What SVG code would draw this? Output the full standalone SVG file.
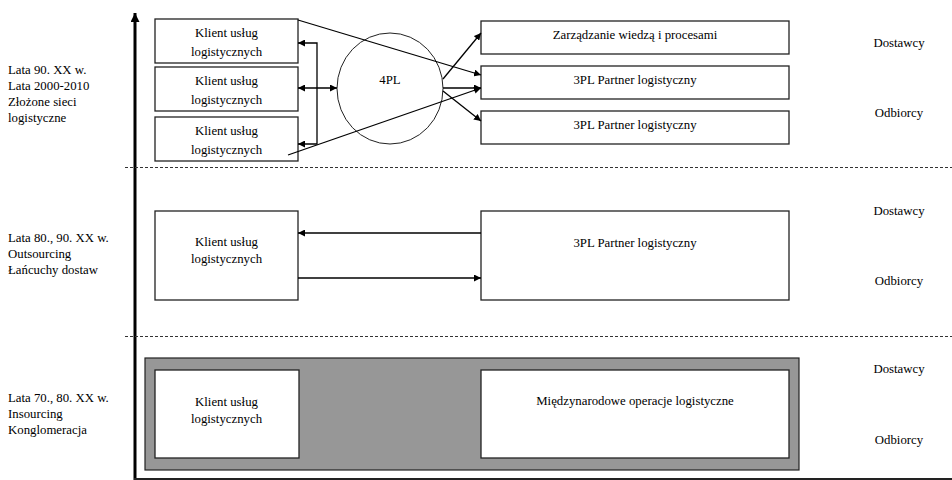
<svg xmlns="http://www.w3.org/2000/svg" width="952" height="480" viewBox="0 0 952 480">
<defs>
<marker id="ah" viewBox="0 0 10 10" refX="10" refY="5" markerWidth="7" markerHeight="7" markerUnits="userSpaceOnUse" orient="auto-start-reverse">
<path d="M0,0 L10,5 L0,10 z" fill="#000"/>
</marker>
<marker id="axh" viewBox="0 0 10 10" refX="10" refY="5" markerWidth="10" markerHeight="9" markerUnits="userSpaceOnUse" orient="auto">
<path d="M0,0 L10,5 L0,10 z" fill="#000"/>
</marker>
</defs>
<style>
text{font-family:"Liberation Serif","Times New Roman",serif;font-size:12.8px;fill:#000}
.c{text-anchor:middle}
.box{fill:#fff;stroke:#222;stroke-width:1.3}
.ln{stroke:#000;stroke-width:1.3;fill:none}
.dash{stroke:#333;stroke-width:1;stroke-dasharray:3,2}
</style>
<rect width="952" height="480" fill="#fff"/>

<g id="axes">
<line x1="135" y1="480" x2="135" y2="13" stroke="#000" stroke-width="3" marker-end="url(#axh)"/>
<line x1="134" y1="479" x2="952" y2="479" stroke="#222" stroke-width="2"/>
<line class="dash" x1="125" y1="167.5" x2="952" y2="167.5"/>
<line class="dash" x1="125" y1="336.5" x2="952" y2="336.5"/>
</g>

<g id="era-labels">
<text x="8" y="74">Lata 90. XX w.</text>
<text x="8" y="90">Lata 2000-2010</text>
<text x="8" y="106">Złożone sieci</text>
<text x="8" y="122">logistyczne</text>
<text x="8" y="242">Lata 80., 90. XX w.</text>
<text x="8" y="258">Outsourcing</text>
<text x="8" y="274">Łańcuchy dostaw</text>
<text x="8" y="402">Lata 70., 80. XX w.</text>
<text x="8" y="418">Insourcing</text>
<text x="8" y="434">Konglomeracja</text>
</g>

<g id="side-labels">
<text class="c" x="899" y="47">Dostawcy</text>
<text class="c" x="899" y="117">Odbiorcy</text>
<text class="c" x="899" y="215">Dostawcy</text>
<text class="c" x="899" y="285">Odbiorcy</text>
<text class="c" x="899" y="373">Dostawcy</text>
<text class="c" x="899" y="444">Odbiorcy</text>
</g>

<g id="klient1">
<rect class="box" x="155" y="19" width="143" height="44"/>
<text class="c" x="226.5" y="37">Klient usług</text>
<text class="c" x="226.5" y="56">logistycznych</text>
</g>
<g id="klient2">
<rect class="box" x="155" y="67" width="143" height="44"/>
<text class="c" x="226.5" y="85">Klient usług</text>
<text class="c" x="226.5" y="104">logistycznych</text>
</g>
<g id="klient3">
<rect class="box" x="155" y="117" width="143" height="44"/>
<text class="c" x="226.5" y="135">Klient usług</text>
<text class="c" x="226.5" y="154">logistycznych</text>
</g>

<g id="n4pl">
<ellipse cx="390" cy="88.5" rx="53" ry="55.5" fill="#fff" stroke="#222" stroke-width="1"/>
<text class="c" x="390" y="84">4PL</text>
</g>

<g id="zarzadzanie">
<rect class="box" x="481" y="21" width="308" height="33"/>
<text class="c" x="635" y="39">Zarządzanie wiedzą i procesami</text>
</g>
<g id="pl3a">
<rect class="box" x="481" y="66" width="308" height="33"/>
<text class="c" x="635" y="84">3PL Partner logistyczny</text>
</g>
<g id="pl3b">
<rect class="box" x="481" y="111" width="308" height="33"/>
<text class="c" x="635" y="129">3PL Partner logistyczny</text>
</g>

<g id="klient-mid">
<rect class="box" x="155" y="211" width="143" height="89"/>
<text class="c" x="226.5" y="246">Klient usług</text>
<text class="c" x="226.5" y="263">logistycznych</text>
</g>
<g id="pl3-mid">
<rect class="box" x="481" y="211" width="308" height="89"/>
<text class="c" x="635" y="247">3PL Partner logistyczny</text>
</g>

<g id="konglomeracja">
<rect x="145" y="358" width="654" height="112" fill="#979797" stroke="#222" stroke-width="1.2"/>
</g>
<g id="klient-bot">
<rect class="box" x="155" y="370" width="144" height="88"/>
<text class="c" x="226.5" y="406">Klient usług</text>
<text class="c" x="226.5" y="423">logistycznych</text>
</g>
<g id="miedzynarodowe">
<rect class="box" x="481" y="370" width="308" height="88"/>
<text class="c" x="635" y="405">Międzynarodowe operacje logistyczne</text>
</g>

<g id="connectors">
<polyline class="ln" points="298,43 317,43 317,144 298,144" marker-start="url(#ah)" marker-end="url(#ah)"/>
<line class="ln" x1="298" y1="88" x2="337" y2="88" marker-start="url(#ah)" marker-end="url(#ah)"/>
<line class="ln" x1="298" y1="20" x2="481" y2="75" marker-end="url(#ah)"/>
<line class="ln" x1="288" y1="155" x2="481" y2="88" marker-end="url(#ah)"/>
<line class="ln" x1="443" y1="88" x2="481" y2="88" marker-end="url(#ah)"/>
<line class="ln" x1="443" y1="79" x2="481" y2="33" marker-end="url(#ah)"/>
<line class="ln" x1="443" y1="91" x2="481" y2="121" marker-end="url(#ah)"/>
<line class="ln" x1="481" y1="233" x2="298" y2="233" marker-end="url(#ah)"/>
<line class="ln" x1="298" y1="278" x2="481" y2="278" marker-end="url(#ah)"/>
</g>
</svg>
